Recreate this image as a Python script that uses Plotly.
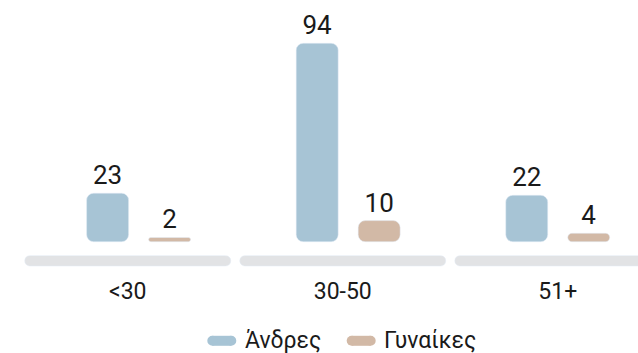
import plotly.graph_objects as go

# Age groups and head counts by gender
age_groups = ["<30", "30-50", "51+"]
men = [23, 94, 22]
women = [2, 10, 4]
series_names = ["Άνδρες", "Γυναίκες"]

BLUE = "#A7C4D5"
TAN = "#D2B9A6"
GREY = "#E2E3E5"
FONT = "Roboto"
TEXT = "#1a1a1a"

W, H = 638, 353
MB = 78                      # bottom margin; plot area is H - MB tall
PLOT_H = H - MB
n = len(age_groups)

fig = go.Figure()

# Grey track under each age group (explicit base, so both ends are rounded)
fig.add_trace(go.Bar(
    x=age_groups, y=[4.9] * n, base=[-11.5] * n,
    width=0.958, offset=-0.479, marker=dict(color=GREY, cornerradius=5),
    hoverinfo="skip", showlegend=False, xaxis="x", yaxis="y",
))

# Value bars
for vals, color, off in [(men, BLUE, -0.2481), (women, TAN, 0.0477)]:
    fig.add_trace(go.Bar(
        x=age_groups, y=vals, base=[0] * n, width=0.2004, offset=off,
        marker=dict(color=color, cornerradius=7),
        texttemplate="%{y}", textposition="outside", constraintext="none",
        textfont=dict(family=FONT, size=26, color=TEXT),
        hovertemplate="%{x}: %{y}<extra></extra>",
        cliponaxis=False, showlegend=False, xaxis="x2", yaxis="y",
    ))


# Legend: pill swatch + label for each series
def px_x(v):
    return v / W


def px_y(v):
    return (PLOT_H - v) / PLOT_H


shapes = []
annotations = []
legend_items = [(series_names[0], BLUE, 207.3, 244.3), (series_names[1], TAN, 346.7, 383.3)]
sw, sh, cy, ty = 29, 10, 340.8, 340.8
for name, color, x0, tx in legend_items:
    r = sh / 2
    common = dict(xref="paper", yref="paper", fillcolor=color, line=dict(width=0), layer="above")
    shapes.append(dict(type="rect", x0=px_x(x0 + r), x1=px_x(x0 + sw - r),
                       y0=px_y(cy - r), y1=px_y(cy + r), **common))
    for cx in (x0 + r, x0 + sw - r):
        shapes.append(dict(type="circle", x0=px_x(cx - r), x1=px_x(cx + r),
                           y0=px_y(cy - r), y1=px_y(cy + r), **common))
    annotations.append(dict(
        text=name, x=px_x(tx - 1), y=px_y(ty), xref="paper", yref="paper",
        xanchor="left", yanchor="middle", align="left", width=110, showarrow=False,
        font=dict(family=FONT, size=23, color=TEXT),
    ))

fig.update_layout(
    width=W, height=H,
    margin=dict(l=0, r=0, t=0, b=MB),
    paper_bgcolor="white", plot_bgcolor="white",
    barmode="overlay",
    font=dict(family=FONT, color=TEXT),
    xaxis=dict(
        type="category", range=[-0.594, 2.373], showgrid=False, zeroline=False,
        showline=False, ticks="", ticklabelstandoff=0,
        tickfont=dict(family=FONT, size=23, color=TEXT), fixedrange=True,
    ),
    xaxis2=dict(
        type="category", overlaying="x", range=[-0.6614, 2.383], visible=False,
        fixedrange=True,
    ),
    yaxis=dict(range=[-15.77, 114.5], visible=False, fixedrange=True),
    shapes=shapes,
    annotations=annotations,
    showlegend=False,
)

fig.write_html("out.html")
